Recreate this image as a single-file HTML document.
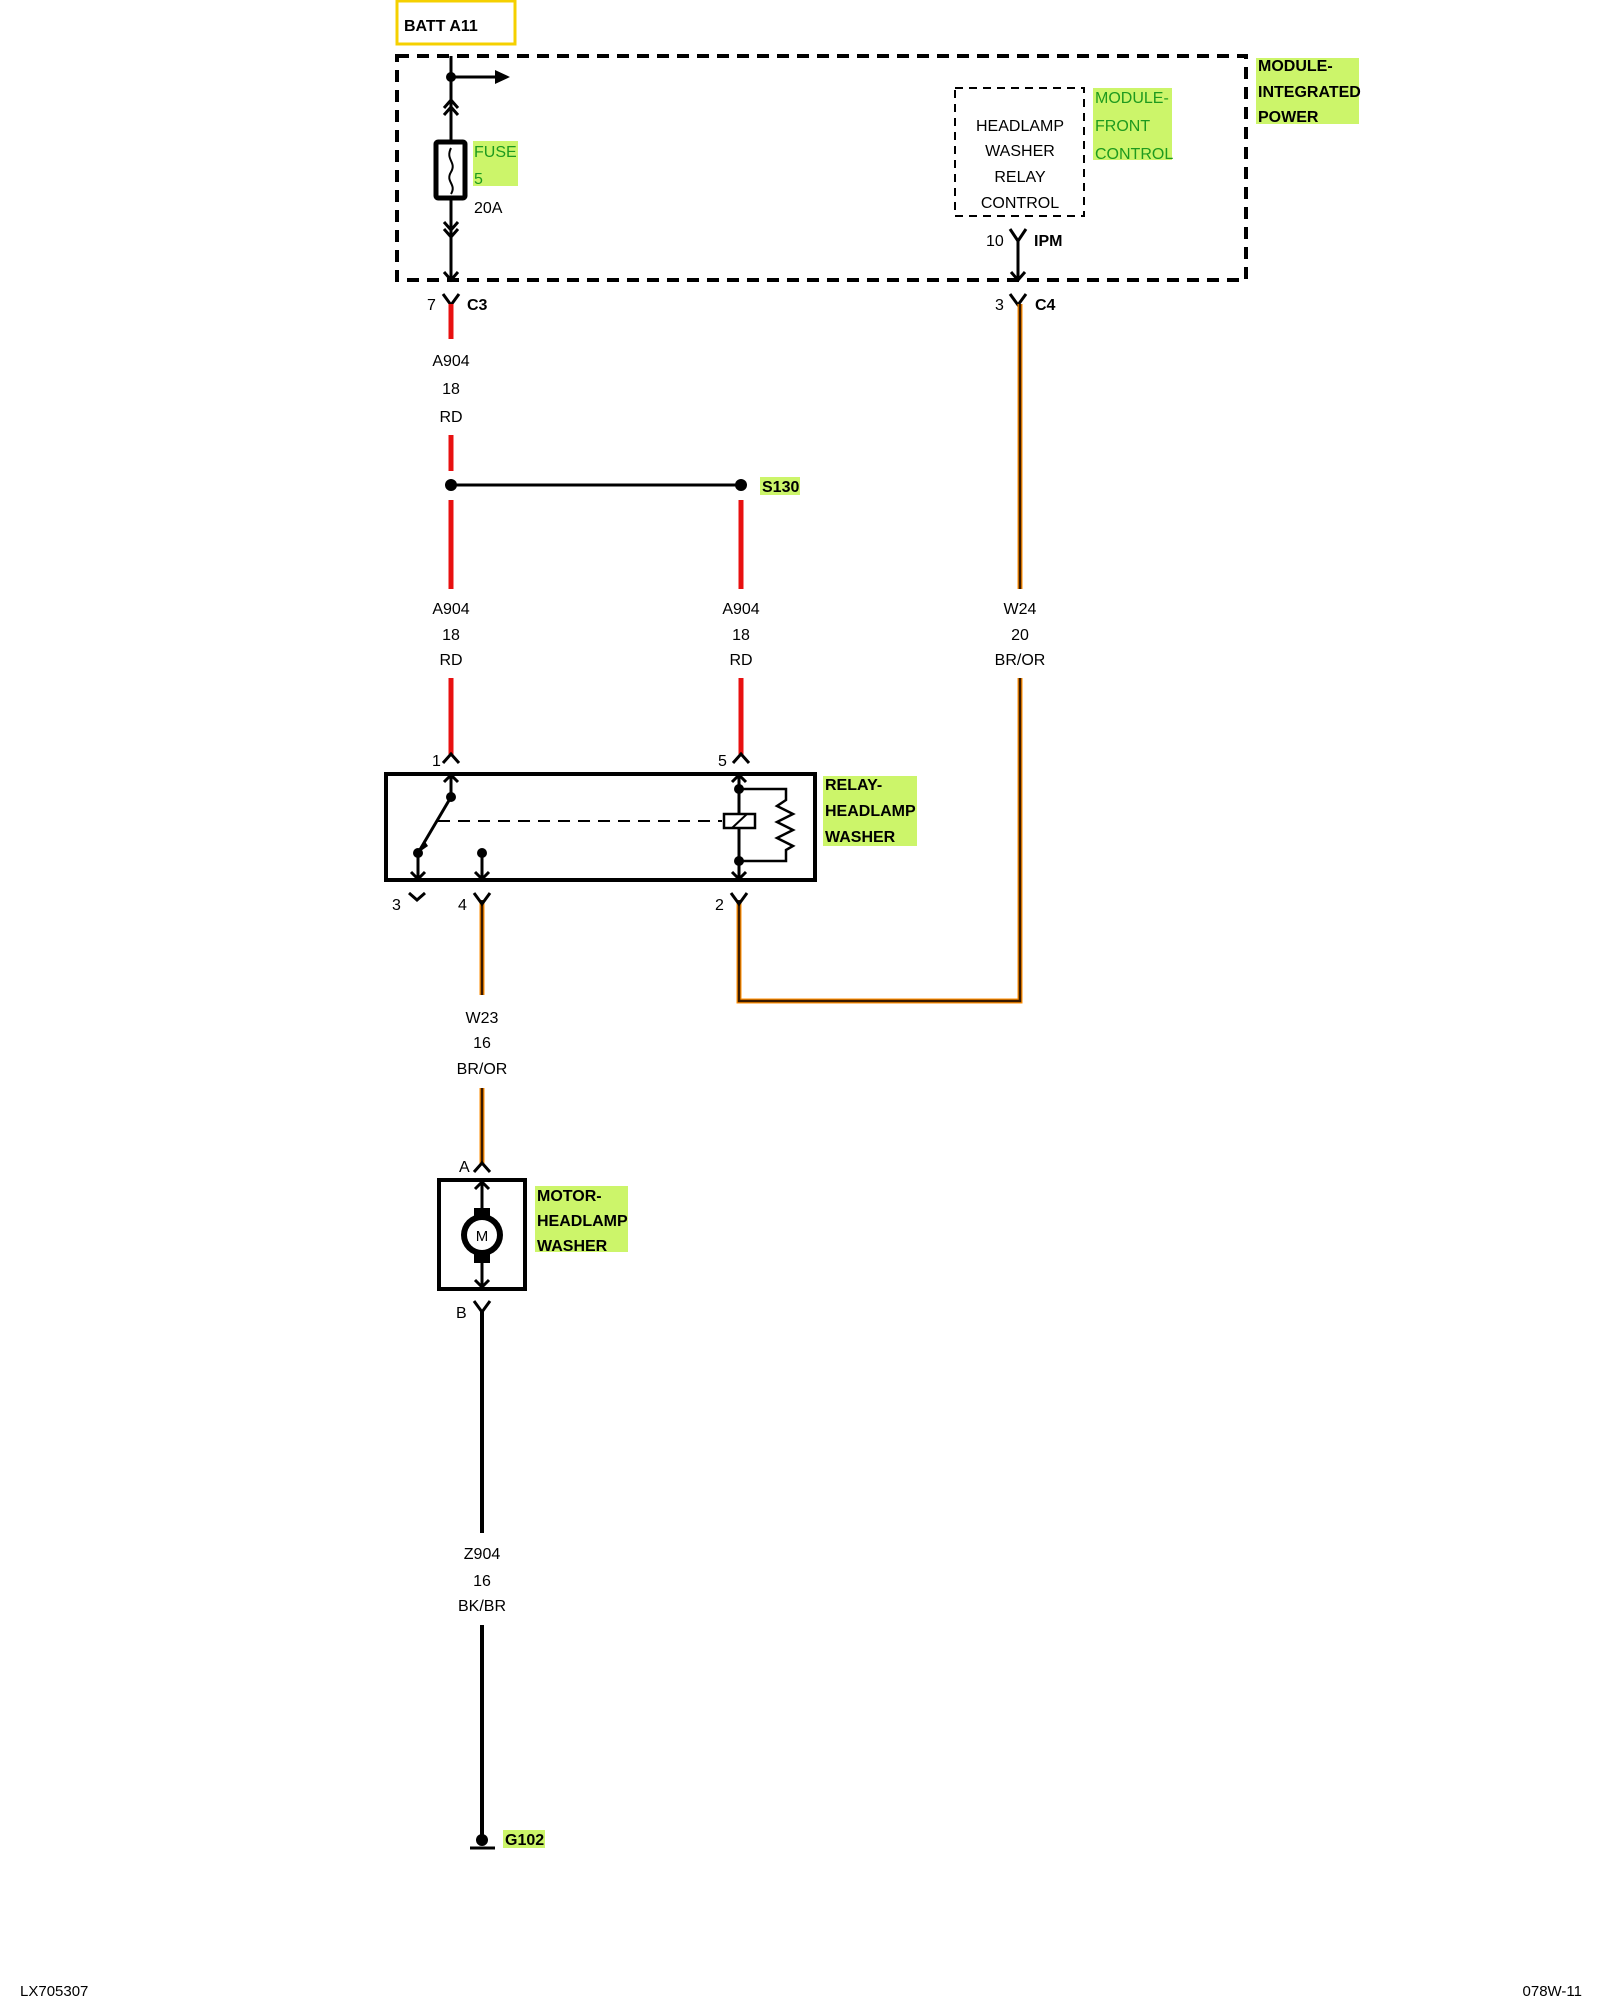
<!DOCTYPE html>
<html><head><meta charset="utf-8"><style>
html,body{margin:0;padding:0;background:#fff;}
svg{display:block;font-family:"Liberation Sans",sans-serif;}
.t{font-size:16px;fill:#000;}
.b{font-size:16px;font-weight:bold;fill:#000;}
.g{font-size:16px;fill:#1e9a1e;}
</style></head><body>
<svg width="1600" height="2000" viewBox="0 0 1600 2000" xmlns="http://www.w3.org/2000/svg">
<!-- BATT box -->
<rect x="397" y="1" width="118" height="43" fill="none" stroke="#f5d000" stroke-width="3"/>
<text x="404" y="31" class="b">BATT A11</text>
<!-- module integrated power dashed -->
<rect x="397" y="56" width="849" height="224" fill="none" stroke="#000" stroke-width="4" stroke-dasharray="12,8"/>
<rect x="1256" y="58" width="103" height="66" fill="#ccf56a"/>
<text x="1258" y="71" class="b">MODULE-</text>
<text x="1258" y="97" class="b">INTEGRATED</text>
<text x="1258" y="122" class="b">POWER</text>
<!-- main wire inside -->
<g stroke="#000" stroke-width="3" fill="none">
<line x1="451" y1="56" x2="451" y2="140"/>
<line x1="451" y1="77" x2="495" y2="77"/>
<polyline points="444,108 451,100 458,108"/>
<polyline points="444,115 451,107 458,115"/>
<line x1="451" y1="198" x2="451" y2="280"/>
<polyline points="444,222 451,230 458,222"/>
<polyline points="444,229 451,237 458,229"/>
<polyline points="444,272 451,280 458,272"/>
<rect x="436" y="142" width="29" height="56" rx="2" stroke-width="5"/>
<path d="M451,148 C445,160 457,162 451,172 C445,182 457,184 451,194" stroke-width="2"/>
</g>
<circle cx="451" cy="77" r="5"/>
<polygon points="495,70 510,77 495,84"/>
<rect x="473" y="141" width="45" height="45" fill="#ccf56a"/>
<text x="474" y="157" class="g">FUSE</text>
<text x="474" y="184" class="g">5</text>
<text x="474" y="213" class="t">20A</text>
<!-- module front control -->
<rect x="955" y="88" width="129" height="128" fill="none" stroke="#000" stroke-width="2" stroke-dasharray="8,6"/>
<g class="t" text-anchor="middle">
<text x="1020" y="131">HEADLAMP</text>
<text x="1020" y="156">WASHER</text>
<text x="1020" y="182">RELAY</text>
<text x="1020" y="208">CONTROL</text>
</g>
<rect x="1093" y="88" width="79" height="72" fill="#ccf56a"/>
<text x="1095" y="103" class="g">MODULE-</text>
<text x="1095" y="131" class="g">FRONT</text>
<text x="1095" y="159" class="g">CONTROL</text>
<g stroke="#000" stroke-width="3" fill="none">
<line x1="1018" y1="240" x2="1018" y2="280"/>
<polyline points="1010,229 1018,241 1026,229"/>
<polyline points="1011,272 1018,280 1025,272"/>
</g>
<text x="986" y="246" class="t">10</text>
<text x="1034" y="246" class="b">IPM</text>
<!-- C3 / C4 -->
<g stroke="#000" stroke-width="3" fill="none">
<polyline points="443,294 451,305 459,294"/>
<polyline points="1010,294 1018,305 1026,294"/>
</g>
<text x="427" y="310" class="t">7</text>
<text x="467" y="310" class="b">C3</text>
<text x="995" y="310" class="t">3</text>
<text x="1035" y="310" class="b">C4</text>
<!-- red wires -->
<g stroke="#e81010" stroke-width="5">
<line x1="451" y1="304" x2="451" y2="339"/>
<line x1="451" y1="435" x2="451" y2="471"/>
<line x1="451" y1="500" x2="451" y2="589"/>
<line x1="741" y1="500" x2="741" y2="589"/>
<line x1="451" y1="678" x2="451" y2="755"/>
<line x1="741" y1="678" x2="741" y2="755"/>
</g>
<line x1="451" y1="485" x2="741" y2="485" stroke="#000" stroke-width="3"/>
<circle cx="451" cy="485" r="6"/>
<circle cx="741" cy="485" r="6"/>
<rect x="760" y="477" width="40" height="18" fill="#ccf56a"/>
<text x="762" y="492" class="b">S130</text>
<g class="t" text-anchor="middle">
<text x="451" y="366">A904</text><text x="451" y="394">18</text><text x="451" y="422">RD</text>
<text x="451" y="614">A904</text><text x="451" y="640">18</text><text x="451" y="665">RD</text>
<text x="741" y="614">A904</text><text x="741" y="640">18</text><text x="741" y="665">RD</text>
<text x="1020" y="614">W24</text><text x="1020" y="640">20</text><text x="1020" y="665">BR/OR</text>
<text x="482" y="1023">W23</text><text x="482" y="1048">16</text><text x="482" y="1074">BR/OR</text>
<text x="482" y="1559">Z904</text><text x="482" y="1586">16</text><text x="482" y="1611">BK/BR</text>
</g>
<!-- brown/orange wires -->
<g fill="none" stroke-linejoin="miter">
<g stroke="#ff8c00" stroke-width="5">
<polyline points="1020,304 1020,589"/>
<polyline points="1020,678 1020,1001 739,1001 739,900"/>
<line x1="482" y1="900" x2="482" y2="995"/>
<line x1="482" y1="1088" x2="482" y2="1165"/>
</g>
<g stroke="#3a1a00" stroke-width="2.5">
<polyline points="1020,304 1020,589"/>
<polyline points="1020,678 1020,1001 739,1001 739,900"/>
<line x1="482" y1="900" x2="482" y2="995"/>
<line x1="482" y1="1088" x2="482" y2="1165"/>
</g>
</g>
<!-- relay -->
<g stroke="#000" stroke-width="3" fill="none">
<polyline points="443,763 451,754 459,763"/>
<polyline points="733,763 741,754 749,763"/>
<rect x="386" y="774" width="429" height="106" stroke-width="4"/>
<line x1="451" y1="774" x2="451" y2="797"/>
<polyline points="444,782 451,775 458,782"/>
<line x1="451" y1="797" x2="418" y2="853"/>
<line x1="438" y1="821" x2="722" y2="821" stroke-dasharray="12,8" stroke-width="2"/>
<line x1="418" y1="853" x2="418" y2="880"/>
<polyline points="411,872 418,879 425,872"/>
<line x1="482" y1="853" x2="482" y2="880"/>
<polyline points="475,872 482,879 489,872"/>
<line x1="739" y1="774" x2="739" y2="880"/>
<polyline points="732,782 739,775 746,782"/>
<polyline points="732,872 739,879 746,872"/>
<rect x="724" y="814" width="31" height="14" fill="#fff" stroke-width="2.5"/>
<line x1="732" y1="828" x2="747" y2="814" stroke-width="2"/>
<polyline points="739,789 786,789 786,800 777,806 793,814 777,822 793,830 777,838 793,846 786,850 786,861 739,861" stroke-width="2.5"/>
<polyline points="409,893 417,900 425,893"/>
<polyline points="474,893 482,904 490,893"/>
<polyline points="731,893 739,904 747,893"/>
</g>
<polygon points="418,853 424,840 428,846" />
<circle cx="451" cy="797" r="5"/>
<circle cx="418" cy="853" r="5"/>
<circle cx="482" cy="853" r="5"/>
<circle cx="739" cy="789" r="5"/>
<circle cx="739" cy="861" r="5"/>
<text x="432" y="766" class="t">1</text>
<text x="718" y="766" class="t">5</text>
<text x="392" y="910" class="t">3</text>
<text x="458" y="910" class="t">4</text>
<text x="715" y="910" class="t">2</text>
<rect x="823" y="776" width="94" height="70" fill="#ccf56a"/>
<text x="825" y="790" class="b">RELAY-</text>
<text x="825" y="816" class="b">HEADLAMP</text>
<text x="825" y="842" class="b">WASHER</text>
<!-- motor -->
<g stroke="#000" stroke-width="3" fill="none">
<polyline points="474,1172 482,1163 490,1172"/>
<rect x="439" y="1180" width="86" height="109" stroke-width="4"/>
<line x1="482" y1="1181" x2="482" y2="1288"/>
<polyline points="475,1189 482,1182 489,1189"/>
<polyline points="475,1280 482,1287 489,1280"/>
<polyline points="474,1301 482,1312 490,1301"/>
</g>
<rect x="474" y="1208" width="16" height="55"/>
<circle cx="482" cy="1235" r="21" fill="#000"/>
<circle cx="482" cy="1235" r="15" fill="#fff"/>
<text x="482" y="1241" class="t" text-anchor="middle" style="font-size:15px">M</text>
<text x="459" y="1172" class="t">A</text>
<text x="456" y="1318" class="t">B</text>
<rect x="535" y="1186" width="93" height="66" fill="#ccf56a"/>
<text x="537" y="1201" class="b">MOTOR-</text>
<text x="537" y="1226" class="b">HEADLAMP</text>
<text x="537" y="1251" class="b">WASHER</text>
<!-- Z904 -->
<g stroke="#000" stroke-width="4">
<line x1="482" y1="1310" x2="482" y2="1533"/>
<line x1="482" y1="1625" x2="482" y2="1840"/>
<line x1="470" y1="1848" x2="495" y2="1848" stroke-width="3"/>
</g>
<circle cx="482" cy="1840" r="6"/>
<rect x="503" y="1830" width="42" height="18" fill="#ccf56a"/>
<text x="505" y="1845" class="b">G102</text>
<!-- footer -->
<text x="20" y="1996" class="t" style="font-size:15px">LX705307</text>
<text x="1582" y="1996" class="t" text-anchor="end" style="font-size:15px">078W-11</text>
</svg>
</body></html>
